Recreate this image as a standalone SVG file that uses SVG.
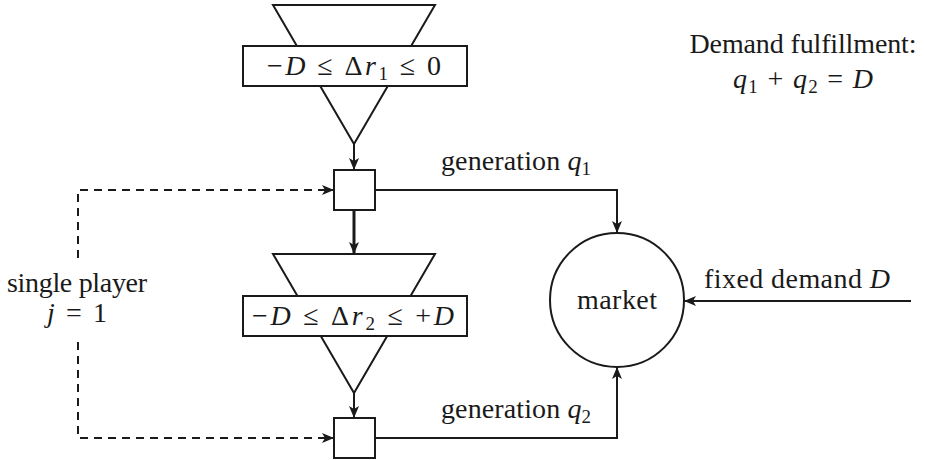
<svg xmlns="http://www.w3.org/2000/svg" width="925" height="460" viewBox="0 0 925 460">
<style>
text{font-family:"Liberation Serif","Times New Roman",serif;font-size:28px;fill:#1a1a1a}
.it{font-style:italic}
.sub{font-size:19px}
.shape{fill:#fff;stroke:#1a1a1a;stroke-width:2}
.line{fill:none;stroke:#1a1a1a;stroke-width:2}
.bold{fill:none;stroke:#1a1a1a;stroke-width:3}
.dash{fill:none;stroke:#1a1a1a;stroke-width:2;stroke-dasharray:8 6}
</style>
<defs>
<marker id="ah" viewBox="0 0 12 10" refX="12" refY="5" markerWidth="12" markerHeight="10" markerUnits="userSpaceOnUse" orient="auto">
<path d="M0,0 L12,5 L0,10 L3,5 z" fill="#1a1a1a"/>
</marker>
</defs>
<g id="connectors">
<line class="line" x1="354" y1="144" x2="354" y2="170" marker-end="url(#ah)"/>
<line class="bold" x1="354" y1="210" x2="354" y2="254" marker-end="url(#ah)"/>
<line class="line" x1="354" y1="393" x2="354" y2="418" marker-end="url(#ah)"/>
<path class="dash" d="M78,258 V190 H334" marker-end="url(#ah)"/>
<path class="dash" d="M78,342 V438 H334" marker-end="url(#ah)"/>
<path class="line" d="M375,190 H617 V233" marker-end="url(#ah)"/>
<path class="line" d="M375,438 H617 V367" marker-end="url(#ah)"/>
<line class="line" x1="911" y1="301" x2="684" y2="301" marker-end="url(#ah)"/>
</g>
<g id="stage1">
<polygon class="shape" points="273,5 435,5 354,144"/>
<rect class="shape" x="243" y="46" width="224" height="40"/>
<text x="354" y="75" text-anchor="middle" textLength="174">−<tspan class="it">D</tspan> ≤ Δ<tspan class="it">r</tspan><tspan class="sub" dy="5">1</tspan><tspan dy="-5"> ≤ 0</tspan></text>
</g>
<g id="decision1">
<rect class="shape" x="334" y="170" width="41" height="40"/>
</g>
<g id="stage2">
<polygon class="shape" points="273,254 435,254 354,393"/>
<rect class="shape" x="243" y="296" width="224" height="40"/>
<text x="353" y="325" text-anchor="middle" textLength="202">−<tspan class="it">D</tspan> ≤ Δ<tspan class="it">r</tspan><tspan class="sub" dy="5">2</tspan><tspan dy="-5"> ≤ +</tspan><tspan class="it">D</tspan></text>
</g>
<g id="decision2">
<rect class="shape" x="334" y="418" width="41" height="40"/>
</g>
<g id="market">
<circle class="shape" cx="617" cy="300" r="67"/>
<text x="617" y="309" text-anchor="middle" textLength="80">market</text>
</g>
<g id="labels">
<text x="441" y="170" textLength="150">generation <tspan class="it">q</tspan><tspan class="sub" dy="5">1</tspan></text>
<text x="441" y="418" textLength="150">generation <tspan class="it">q</tspan><tspan class="sub" dy="5">2</tspan></text>
<text x="704" y="288" textLength="186">fixed demand <tspan class="it">D</tspan></text>
<text x="77" y="292" text-anchor="middle" textLength="140">single player</text>
<text x="77" y="322" text-anchor="middle" textLength="60"><tspan class="it">j</tspan> = 1</text>
<text x="803" y="53" text-anchor="middle" textLength="227">Demand fulfillment:</text>
<text x="803" y="88" text-anchor="middle" textLength="140"><tspan class="it">q</tspan><tspan class="sub" dy="5">1</tspan><tspan dy="-5"> + </tspan><tspan class="it">q</tspan><tspan class="sub" dy="5">2</tspan><tspan dy="-5"> = </tspan><tspan class="it">D</tspan></text>
</g>
</svg>
